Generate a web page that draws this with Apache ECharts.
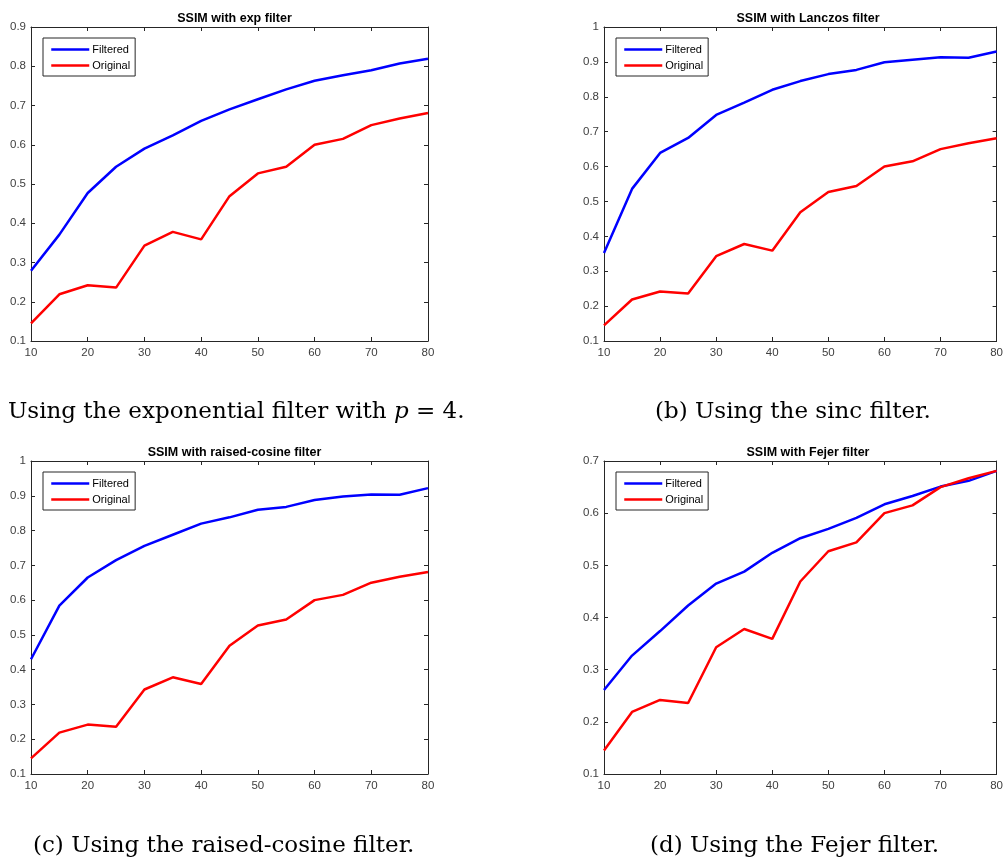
<!DOCTYPE html>
<html>
<head>
<meta charset="utf-8">
<script src="https://cdn.jsdelivr.net/npm/echarts@6/dist/echarts.min.js"></script>
<style>
html, body { margin: 0; padding: 0; background: #fff; }
#main { width: 1006px; height: 861px; }
</style>
</head>
<body>
<div id="main"></div>
<script>
// data ----------------------------------------
var xValues = [10, 15, 20, 25, 30, 35, 40, 45, 50, 55, 60, 65, 70, 75, 80];
var original = [0.145, 0.219, 0.242, 0.236, 0.343, 0.378, 0.359, 0.469, 0.527, 0.544, 0.600, 0.615, 0.650, 0.667, 0.681];
var expFiltered = [0.279, 0.371, 0.477, 0.544, 0.590, 0.624, 0.661, 0.690, 0.716, 0.741, 0.763, 0.777, 0.790, 0.807, 0.819];
var lanczosFiltered = [0.352, 0.536, 0.639, 0.682, 0.748, 0.783, 0.820, 0.845, 0.865, 0.877, 0.899, 0.906, 0.913, 0.912, 0.930];
var cosineFiltered = [0.430, 0.584, 0.665, 0.715, 0.756, 0.788, 0.820, 0.838, 0.860, 0.868, 0.888, 0.898, 0.904, 0.903, 0.922];
var fejerFiltered = [0.261, 0.327, 0.374, 0.423, 0.465, 0.488, 0.524, 0.552, 0.570, 0.591, 0.617, 0.633, 0.651, 0.662, 0.681];
var titles = ['SSIM with exp filter', 'SSIM with Lanczos filter', 'SSIM with raised-cosine filter', 'SSIM with Fejer filter'];
var yRanges = [[0.1, 0.9], [0.1, 1], [0.1, 1], [0.1, 0.7]];
var seriesNames = ['Filtered', 'Original'];

var myChart = echarts.init(document.getElementById('main'));

// panel boxes: left, top, width, height
var boxes = [
    [31, 27, 397, 314],
    [604, 27, 398, 314],
    [31, 461, 397, 313],
    [604, 461, 398, 313]
];
var filteredList = [expFiltered, lanczosFiltered, cosineFiltered, fejerFiltered];

var axisColor = '#262626';
var grid = [], xAxis = [], yAxis = [], series = [], title = [], legend = [];

function pairs(ys) {
    var out = [];
    for (var i = 0; i < xValues.length; i++) {
        out.push([xValues[i], ys[i]]);
    }
    return out;
}

for (var k = 0; k < 4; k++) {
    var b = boxes[k];
    grid.push({ left: b[0], top: b[1], width: b[2], height: b[3] });
    title.push({
        text: titles[k],
        left: b[0] + b[2] / 2,
        top: b[1] - 20,
        textAlign: 'center',
        textStyle: { fontFamily: 'Liberation Sans', fontSize: 12.5, fontWeight: 'bold', color: '#000' }
    });
    legend.push({
        left: b[0] + 12,
        top: b[1] + 11,
        orient: 'vertical',
        data: seriesNames,
        itemWidth: 38,
        itemHeight: 10,
        itemGap: 5,
        padding: [6, 5, 5, 7],
        borderColor: axisColor,
        borderWidth: 1,
        backgroundColor: '#fff',
        selectedMode: false,
        itemStyle: { opacity: 0 },
        lineStyle: { width: 2.5 },
        textStyle: { fontFamily: 'Liberation Sans', fontSize: 11, color: '#000', padding: [0, 0, 0, -2] }
    });
    // bottom + top x axes
    xAxis.push({
        type: 'value', gridIndex: k, position: 'bottom', min: 10, max: 80, interval: 10,
        axisLine: { lineStyle: { color: axisColor, width: 1 } },
        axisTick: { inside: true, length: 4, lineStyle: { color: axisColor } },
        axisLabel: { color: '#404040', fontFamily: 'Liberation Sans', fontSize: 11.5, margin: 6 },
        splitLine: { show: false }
    });
    xAxis.push({
        type: 'value', gridIndex: k, position: 'top', min: 10, max: 80, interval: 10,
        axisLine: { lineStyle: { color: axisColor, width: 1 } },
        axisTick: { inside: true, length: 4, lineStyle: { color: axisColor } },
        axisLabel: { show: false },
        splitLine: { show: false }
    });
    // left + right y axes
    yAxis.push({
        type: 'value', gridIndex: k, position: 'left', min: yRanges[k][0], max: yRanges[k][1], interval: 0.1,
        axisLine: { show: true, lineStyle: { color: axisColor, width: 1 } },
        axisTick: { show: true, inside: true, length: 4, lineStyle: { color: axisColor } },
        axisLabel: { color: '#404040', fontFamily: 'Liberation Sans', fontSize: 11.5, margin: 5 },
        splitLine: { show: false }
    });
    yAxis.push({
        type: 'value', gridIndex: k, position: 'right', min: yRanges[k][0], max: yRanges[k][1], interval: 0.1,
        axisLine: { show: true, lineStyle: { color: axisColor, width: 1 } },
        axisTick: { show: true, inside: true, length: 4, lineStyle: { color: axisColor } },
        axisLabel: { show: false },
        splitLine: { show: false }
    });
    series.push({
        name: 'Filtered', type: 'line', xAxisIndex: k * 2, yAxisIndex: k * 2,
        data: pairs(filteredList[k]), symbol: 'none', z: 3,
        lineStyle: { color: '#0000ff', width: 2.5 }, itemStyle: { color: '#0000ff' }
    });
    series.push({
        name: 'Original', type: 'line', xAxisIndex: k * 2, yAxisIndex: k * 2,
        data: pairs(original), symbol: 'none', z: 4,
        lineStyle: { color: '#ff0000', width: 2.5 }, itemStyle: { color: '#ff0000' }
    });
}

var capFont = '23px "DejaVu Serif"';
function caption(x, y, label, rest, italicP) {
    var text = label + ' Using the ' + rest;
    var rich = {};
    if (italicP) {
        text = label + ' Using the ' + rest + ' {it|p} = 4.';
        rich = { it: { font: 'italic 23px "DejaVu Serif"', fill: '#000' } };
    }
    return {
        type: 'text', x: x, y: y,
        style: { text: text, font: capFont, fill: '#000', verticalAlign: 'middle', rich: rich }
    };
}

var option = {
    animation: false,
    backgroundColor: '#fff',
    title: title,
    legend: legend,
    grid: grid,
    xAxis: xAxis,
    yAxis: yAxis,
    series: series,
    graphic: [
        caption(-31, 412, '(a)', 'exponential filter with', true),
        caption(655, 412, '(b)', 'sinc filter.', false),
        caption(33, 846, '(c)', 'raised-cosine filter.', false),
        caption(650, 846, '(d)', 'Fejer filter.', false)
    ]
};
myChart.setOption(option);

window.addEventListener('resize', function () {
    myChart.resize();
});
</script>
</body>
</html>
